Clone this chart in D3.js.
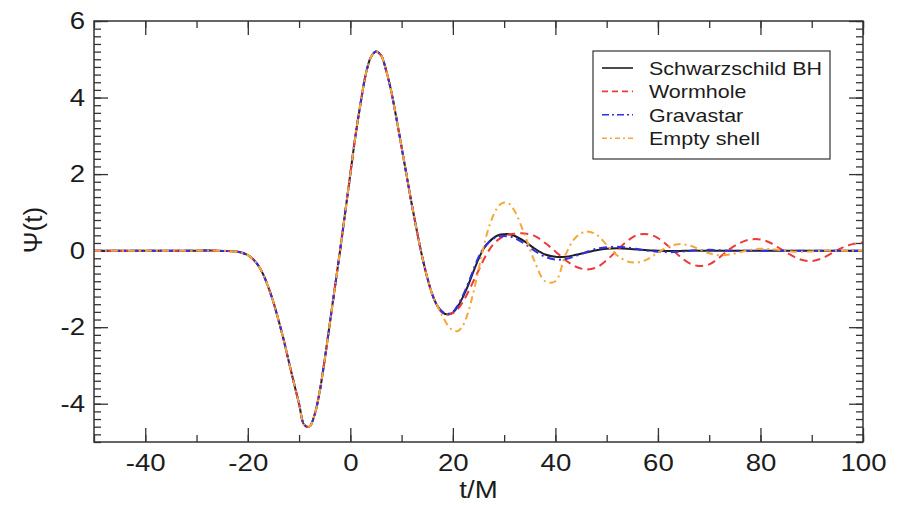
<!DOCTYPE html>
<html>
<head>
<meta charset="utf-8">
<script src="https://cdn.jsdelivr.net/npm/d3@7"></script>
<style>
  html, body { margin: 0; padding: 0; background: #fff; }
  svg { display: block; font-family: "Liberation Sans", Arial, sans-serif; }
</style>
</head>
<body>
<svg class="chart" width="900" height="505"></svg>
<script>
const svg = d3.select(".chart");
const W = 900;
const H = 505;
const LEFT = 94, RIGHT = 863, TOP = 21, BOTTOM = 442;
const STRETCH = 1.15;

// shared merger pulse (all four curves overlap here)
const pulseTimes = [-50, -40, -30, -26, -24, -22, -21, -20, -19, -18, -17, -16, -15, -14, -13, -12, -11, -10,
    -9, -8, -7, -6, -5, -4, -3, -2, -1, 0, 1, 2, 3, 4, 5, 6, 7, 8, 9, 10, 11, 12, 13, 14, 15, 16, 17];
const pulseValues = [0, 0, 0, 0, -0.01, -0.03, -0.06, -0.12, -0.22, -0.38, -0.62, -0.95, -1.35, -1.82, -2.33, -2.9, -3.46, -4.0,
    -4.55, -4.6, -4.3, -3.7, -2.85, -1.9, -0.95, 0.0, 1.0, 2.0, 3.0, 3.85, 4.6, 5.05, 5.2, 5.1, 4.7, 4.15, 3.45, 2.7, 1.95, 1.2, 0.5, -0.15, -0.7, -1.15, -1.45];

// ringdown part, different for each object
const tailTimes = [18, 19, 20, 21, 22, 23, 24, 25, 26, 27, 28, 29, 30, 31,
    32, 34, 36, 38, 40, 42, 44, 46, 48, 50, 52, 54, 56, 58, 60, 62, 64, 66, 68, 70,
    72, 74, 76, 78, 80, 82, 84, 86, 88, 90, 92, 94, 96, 98, 100];
const schwarzschildTail = [-1.62, -1.67, -1.62, -1.45, -1.2, -0.9, -0.55, -0.22, 0.05, 0.22, 0.34, 0.41, 0.43, 0.43,
    0.39, 0.24, 0.05, -0.1, -0.16, -0.16, -0.11, -0.05, 0.01, 0.05, 0.06, 0.05, 0.03, 0.01, 0, -0.01, -0.01, 0, 0, 0,
    0, 0, 0, 0, 0, 0, 0, 0, 0, 0, 0, 0, 0, 0, 0];
const wormholeTail = [-1.62, -1.66, -1.63, -1.52, -1.33, -1.08, -0.8, -0.52, -0.24, 0.0, 0.18, 0.3, 0.38, 0.42,
    0.44, 0.45, 0.38, 0.2, -0.02, -0.25, -0.42, -0.49, -0.44, -0.25, 0.0, 0.25, 0.41, 0.43, 0.33, 0.12, -0.12, -0.32, -0.4, -0.36,
    -0.18, 0.04, 0.2, 0.29, 0.29, 0.2, 0.04, -0.12, -0.24, -0.27, -0.2, -0.06, 0.08, 0.17, 0.21];
const gravastarTail = [-1.6, -1.65, -1.6, -1.42, -1.16, -0.85, -0.5, -0.17, 0.07, 0.22, 0.32, 0.37, 0.38, 0.37,
    0.33, 0.18, -0.01, -0.16, -0.23, -0.22, -0.14, -0.04, 0.05, 0.09, 0.1, 0.08, 0.04, 0.0, -0.03, -0.04, -0.03, -0.01, 0.01, 0.02,
    0.01, 0, 0, 0, 0, 0, 0, 0, 0, 0, 0, 0, 0, 0, 0];
const shellTail = [-1.72, -1.95, -2.08, -2.1, -1.95, -1.6, -1.1, -0.5, 0.1, 0.6, 0.95, 1.18, 1.26, 1.22,
    1.05, 0.42, -0.3, -0.8, -0.8, -0.1, 0.35, 0.5, 0.42, 0.15, -0.12, -0.28, -0.31, -0.22, -0.05, 0.1, 0.17, 0.14, 0.04, -0.07,
    -0.12, -0.1, -0.04, 0.02, 0.05, 0.04, 0.01, -0.02, -0.03, -0.02, 0, 0, 0, 0, 0];

const seriesNames = ["Schwarzschild BH", "Wormhole", "Gravastar", "Empty shell"];
const seriesTails = [schwarzschildTail, wormholeTail, gravastarTail, shellTail];
const seriesColors = ["#1e1e1e", "#ee3a3a", "#2f2fe8", "#f7a738"];
const seriesDash = ["", "8,5", "8,4,2,4", "7,4,2,4"];
const legendDash = ["", "6,4", "7,3,2,3", "5,3,2,3"];

const xMajor = [-40, -20, 0, 20, 40, 60, 80, 100];
const yMajor = [-4, -2, 0, 2, 4, 6];

const xScale = d3.scaleLinear().domain([-50, 100]).range([LEFT, RIGHT]);
const yScale = d3.scaleLinear().domain([-5, 6]).range([BOTTOM, TOP]);

const allTimes = pulseTimes.concat(tailTimes);
const series = seriesNames.map((name, i) => ({
    name: name,
    points: allTimes.map((t, j) => ({ t: t, v: j < pulseValues.length ? pulseValues[j] : seriesTails[i][j - pulseValues.length] }))
}));

const xMinor = d3.range(-50, 101, 10);
const yMinor = d3.range(-5, 6.01, 0.2).map(d => Math.round(d * 10) / 10);

// plain hyphen minus like the original plot
const plainFormat = d => String(d);

function addAxis(axis, transform) {
    const g = svg.append("g")
        .attr("transform", transform)
        .call(axis);
    g.select(".domain").remove();
    g.selectAll("line").attr("stroke", "#333").attr("stroke-width", 1.3);
    return g;
}

// minor ticks first, major ticks on top
addAxis(d3.axisBottom(xScale).tickValues(xMinor).tickSize(-7).tickFormat(""), `translate(0,${BOTTOM})`);
addAxis(d3.axisTop(xScale).tickValues(xMinor).tickSize(-7).tickFormat(""), `translate(0,${TOP})`);
addAxis(d3.axisLeft(yScale).tickValues(yMinor).tickSize(-7).tickFormat(""), `translate(${LEFT},0)`);
addAxis(d3.axisRight(yScale).tickValues(yMinor).tickSize(-7).tickFormat(""), `translate(${RIGHT},0)`);

const bottomAxis = addAxis(d3.axisBottom(xScale).tickValues(xMajor).tickSize(-14).tickPadding(12).tickFormat(plainFormat), `translate(0,${BOTTOM})`);
addAxis(d3.axisTop(xScale).tickValues(xMajor).tickSize(-14).tickFormat(""), `translate(0,${TOP})`);
const leftAxis = addAxis(d3.axisLeft(yScale).tickValues(yMajor).tickSize(-14).tickFormat(plainFormat), `translate(${LEFT},0)`);
addAxis(d3.axisRight(yScale).tickValues(yMajor).tickSize(-14).tickFormat(""), `translate(${RIGHT},0)`);

bottomAxis.selectAll("text")
    .style("font-family", "Liberation Sans, Arial, sans-serif")
    .style("font-size", "24px")
    .attr("fill", "#1c1c1c")
    .attr("transform", `scale(${STRETCH},1)`);

leftAxis.selectAll("text")
    .style("font-family", "Liberation Sans, Arial, sans-serif")
    .style("font-size", "24px")
    .attr("fill", "#1c1c1c")
    .attr("x", -9 / STRETCH)
    .attr("transform", `scale(${STRETCH},1)`);

svg.append("clipPath")
    .attr("id", "plot-clip")
    .append("rect")
    .attr("x", LEFT)
    .attr("y", TOP)
    .attr("width", RIGHT - LEFT)
    .attr("height", BOTTOM - TOP);

const line = d3.line()
    .x(d => xScale(d.t))
    .y(d => yScale(d.v))
    .curve(d3.curveCatmullRom.alpha(0.5));

svg.append("g")
    .attr("clip-path", "url(#plot-clip)")
    .selectAll("path")
    .data(series)
    .enter()
    .append("path")
    .attr("d", d => line(d.points))
    .attr("fill", "none")
    .attr("stroke", (d, i) => seriesColors[i])
    .attr("stroke-width", 2)
    .attr("stroke-dasharray", (d, i) => seriesDash[i]);

// frame
svg.append("rect")
    .attr("x", LEFT)
    .attr("y", TOP)
    .attr("width", RIGHT - LEFT)
    .attr("height", BOTTOM - TOP)
    .attr("fill", "none")
    .attr("stroke", "#333")
    .attr("stroke-width", 1.5);

// axis titles
svg.append("text")
    .attr("transform", `translate(${(LEFT + RIGHT) / 2},498) scale(${STRETCH},1)`)
    .attr("text-anchor", "middle")
    .style("font-size", "24px")
    .attr("fill", "#1c1c1c")
    .text("t/M");

svg.append("text")
    .attr("transform", `translate(42,230) rotate(-90)`)
    .attr("text-anchor", "middle")
    .style("font-size", "26px")
    .attr("fill", "#1c1c1c")
    .text("Ψ(t)");

// legend
const legend = svg.append("g").attr("transform", "translate(593,51)");
legend.append("rect")
    .attr("width", 237)
    .attr("height", 108)
    .attr("fill", "#fff")
    .attr("stroke", "#333")
    .attr("stroke-width", 1.2);

const rows = legend.selectAll(".row")
    .data(seriesNames)
    .enter()
    .append("g")
    .attr("class", "row")
    .attr("transform", (d, i) => `translate(0,${17 + i * 23.4})`);

rows.append("line")
    .attr("x1", 9)
    .attr("x2", 40)
    .attr("stroke", (d, i) => seriesColors[i])
    .attr("stroke-width", 1.6)
    .attr("stroke-dasharray", (d, i) => legendDash[i]);

rows.append("text")
    .attr("transform", `translate(56,0) scale(1.13,1)`)
    .attr("dy", "0.36em")
    .style("font-size", "19px")
    .attr("fill", "#1c1c1c")
    .text(d => d);
</script>
</body>
</html>
